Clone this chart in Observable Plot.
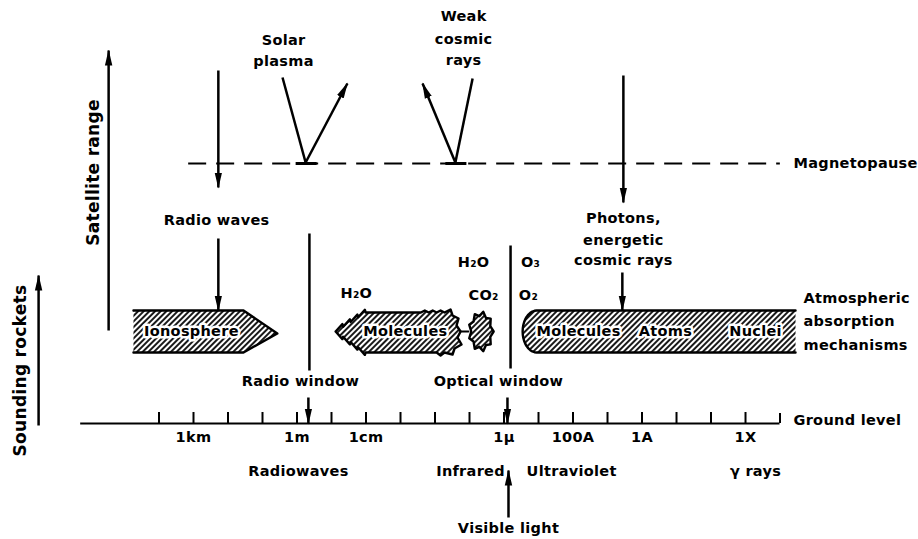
<!DOCTYPE html>
<html>
<head>
<meta charset="utf-8">
<script src="https://cdn.jsdelivr.net/npm/d3@7"></script>
<script src="https://cdn.jsdelivr.net/npm/@observablehq/plot@0.6"></script>
<style>
  html, body { margin: 0; padding: 0; background: #fff; }
  svg text { letter-spacing: 0.3px; }
</style>
</head>
<body>
<div id="chart"></div>
<script>
// x = log10(wavelength / 1 m) (decreasing to the right), y = schematic height (ground level = 0)

// Ground-level wavelength scale
const groundStart = 6.27, groundEnd = -14.0;
const tickExponents = [4, 3, 2, 1, 0, -1, -2, -3, -4, -5, -6, -7, -8, -9, -10, -11, -12, -13];
const scaleLabels = ["1km", "1m", "1cm", "1μ", "100A", "1A", "1X"];
const scaleLabelExp = [3, 0, -2, -6, -8, -10, -13];
const regionLabels = ["Radiowaves", "Infrared", "Ultraviolet", "γ rays"];
const regionExp = [-0.04, -5.03, -7.96, -13.29];

// Heights of schematic levels
const levelGround = 0, levelBandTop = 1.13, levelBandBottom = 0.71, levelMagnetopause = 2.6;

// Absorption bands (wavelength extents)
const ionosphereBand = [4.74, 1.55, 0.57];           // left edge, start of point, tip
const waterBand = [-1.12, -4.74];                    // tip, right end
const waterBlob = [-4.97, -5.70];
const highBand = [-6.54, -14.45];
const bandLabels = ["Ionosphere", "Molecules", "Molecules", "Atoms", "Nuclei"];
const bandLabelExp = [3.06, -3.14, -8.16, -10.68, -13.29];

// Arrows [x1, y1, x2, y2]
const arrowNames = ["Satellite range", "Sounding rockets", "Radio waves", "Radio waves to ionosphere",
  "Solar plasma reflected", "Weak cosmic rays reflected", "Photons", "Photons to band",
  "Radio window", "Optical window", "Visible light"];
const arrowX1 = [5.46, 7.49, 2.28, 2.28, -0.25, -4.59, -9.46, -9.43, -0.33, -6.10, -6.13];
const arrowY1 = [0.93, -0.02, 3.53, 1.85, 2.61, 2.61, 3.48, 1.51, 0.26, 0.26, -0.94];
const arrowX2 = [5.46, 7.49, 2.28, 2.28, -1.46, -3.64, -9.46, -9.43, -0.33, -6.10, -6.13];
const arrowY2 = [3.73, 1.48, 2.36, 1.13, 3.40, 3.40, 2.21, 1.13, 0.0, 0.0, -0.47];

// Plain segments [x1, y1, x2, y2]
const segX1 = [0.42, -5.09, -0.36, -6.19];
const segY1 = [3.46, 3.45, 1.90, 1.78];
const segX2 = [-0.25, -4.59, -0.36, -6.19];
const segY2 = [2.61, 2.61, 0.53, 0.55];
const vertexBars = [[0.04, -0.57], [-4.30, -4.91]];
const magnetopauseSpan = [3.14, -14.01];

// Free text labels
const noteTexts = ["Solar", "plasma", "Weak", "cosmic", "rays", "Radio waves",
  "Photons,", "energetic", "cosmic rays", "H₂O", "O₃", "CO₂", "O₂", "H₂O",
  "Radio window", "Optical window", "Visible light"];
const noteExp = [0.39, 0.39, -4.83, -4.83, -4.83, 2.33,
  -9.46, -9.46, -9.46, -5.12, -6.77, -5.41, -6.71, -1.72,
  -0.10, -5.84, -6.13];
const noteLevel = [3.83, 3.62, 4.07, 3.84, 3.63, 2.03,
  2.05, 1.83, 1.63, 1.61, 1.61, 1.28, 1.28, 1.30,
  0.42, 0.42, -1.05];

const sideTexts = ["Magnetopause", "Atmospheric", "absorption", "mechanisms", "Ground level"];
const sideExp = [-14.39, -14.68, -14.68, -14.68, -14.39];
const sideLevel = [2.6, 1.25, 1.02, 0.78, 0.03];

// ---------- build tables ----------
const arrows = arrowNames.map((name, i) => ({name, x1: arrowX1[i], y1: arrowY1[i], x2: arrowX2[i], y2: arrowY2[i]}));
const segments = segX1.map((_, i) => ({x1: segX1[i], y1: segY1[i], x2: segX2[i], y2: segY2[i]}));
const notes = noteTexts.map((text, i) => ({text, x: noteExp[i], y: noteLevel[i]}));
const sides = sideTexts.map((text, i) => ({text, x: sideExp[i], y: sideLevel[i]}));
const scaleTicks = scaleLabels.map((text, i) => ({text, x: scaleLabelExp[i]}));
const regions = regionLabels.map((text, i) => ({text, x: regionExp[i]}));
const bandText = bandLabels.map((text, i) => ({text, x: bandLabelExp[i]}));

const mid = (levelBandTop + levelBandBottom) / 2;
const halfH = (levelBandTop - levelBandBottom) / 2;
const dx = 1 / 34.5, dy = 0.01; // one drawing unit in each direction

// Outline builders
function zig(a, b, n, ox, oy) {
  const pts = [];
  for (let k = 0; k < n; k++) {
    const t0 = k / n, t1 = (k + 0.5) / n;
    pts.push([a[0] + (b[0] - a[0]) * t0, a[1] + (b[1] - a[1]) * t0]);
    pts.push([a[0] + (b[0] - a[0]) * t1 + ox, a[1] + (b[1] - a[1]) * t1 + oy]);
  }
  return pts;
}
const shapes = [];
function addShape(name, pts) { pts.forEach(([x, y]) => shapes.push({name, x, y})); }

// Ionosphere: flat left, pointed right (left edge unstroked)
addShape("ionosphere", [
  [ionosphereBand[0], levelBandTop], [ionosphereBand[1], levelBandTop],
  [ionosphereBand[2], mid - 0.02], [ionosphereBand[1], levelBandBottom],
  [ionosphereBand[0], levelBandBottom]
]);

// Water molecules: jagged pointed left, ragged right end
{
  const L = waterBand[0], R = waterBand[1];
  const sL = L - 30 * dx, sR = R + 16 * dx;
  const T = levelBandTop - 0.02, B = levelBandBottom;
  const pts = [];
  pts.push(...zig([L, mid], [sL, T], 4, -3 * dx, 5 * dy));
  pts.push(...zig([sL, T], [sR, T], 10, 0, 2 * dy).filter((p, i) => i > 14 || i % 2 === 0));
  pts.push([sR, T], [R + 10 * dx, T + 3 * dy], [R + 8 * dx, T - 3 * dy], [R + 2 * dx, T - 6 * dy],
    [R + 4 * dx, mid + 6 * dy], [R, mid], [R + 3 * dx, mid - 6 * dy], [R - 1 * dx, B + 8 * dy],
    [R + 6 * dx, B + 4 * dy], [R + 8 * dx, B - 2 * dy], [sR, B]);
  pts.push(...zig([sR, B], [sL, B], 10, 0, -3 * dy).filter((p, i) => i < 3 || i % 2 === 0));
  pts.push(...zig([sL, B], [L, mid], 4, -3 * dx, -5 * dy));
  pts.push([L, mid]);
  addShape("water", pts);
  // connector
  addShape("connector", [[R, mid], [waterBlob[0], mid]]);
  // blob
  const cx = (waterBlob[0] + waterBlob[1]) / 2, rx = (waterBlob[0] - waterBlob[1]) / 2, ry = halfH * 0.95;
  const bp = [];
  const n = 18;
  for (let k = 0; k <= n; k++) {
    const a = (k / n) * 2 * Math.PI;
    const r = k % 2 === 0 ? 1 : 0.78;
    bp.push([cx - rx * r * Math.cos(a), mid + ry * r * Math.sin(a)]);
  }
  addShape("blob", bp);
}

// High-energy band: rounded left end, open right end
{
  const L = highBand[0], R = highBand[1];
  const rx = 14 * dx, ry = halfH;
  const cx = L - rx;
  const pts = [[R, levelBandTop]];
  for (let k = 0; k <= 20; k++) {
    const a = Math.PI / 2 + (k / 20) * Math.PI;
    pts.push([cx - rx * Math.cos(a), mid + ry * Math.sin(a)]);
  }
  pts.push([R, levelBandBottom]);
  addShape("high", pts);
}

const ticks = tickExponents.map(x => ({x}));

const font = "DejaVu Sans, sans-serif";

const chart = Plot.plot({
  width: 918,
  height: 539,
  marginTop: 0, marginBottom: 0, marginLeft: 0, marginRight: 0,
  x: {domain: [8.594, -18.014], range: [0, 918], axis: null},
  y: {domain: [-1.16, 4.23], range: [539, 0], axis: null},
  style: {fontFamily: font, fontWeight: "bold", fontSize: "14.5px", background: "white", color: "black", overflow: "visible"},
  marks: [
    // hatched bands
    Plot.line(shapes.filter(d => d.name !== "connector"), {x: "x", y: "y", z: "name", fill: "url(#hatch)", stroke: "black", strokeWidth: 2.4, curve: "linear", strokeLinejoin: "round"}),
    Plot.line(shapes.filter(d => d.name === "connector"), {x: "x", y: "y", stroke: "black", strokeWidth: 1.8}),
    // band labels with white clearing
    Plot.text(bandText, {x: "x", y: mid, text: "text", fill: "black", stroke: "white", strokeWidth: 5, fontSize: 14.5}),
    // ground level line and ticks
    Plot.ruleY([levelGround], {x1: groundStart, x2: groundEnd, stroke: "black", strokeWidth: 2.2}),
    Plot.ruleX(ticks, {x: "x", y1: 0, y2: 0.11, stroke: "black", strokeWidth: 2}),
    Plot.ruleX([groundEnd], {y1: 0, y2: 0.1, stroke: "black", strokeWidth: 2}),
    // magnetopause
    Plot.ruleY([levelMagnetopause], {x1: magnetopauseSpan[0], x2: magnetopauseSpan[1], stroke: "black", strokeWidth: 2.2, strokeDasharray: "18,10"}),
    Plot.link(vertexBars, {x1: d => d[0], x2: d => d[1], y1: levelMagnetopause, y2: levelMagnetopause, stroke: "black", strokeWidth: 3}),
    // plain segments
    Plot.link(segments, {x1: "x1", y1: "y1", x2: "x2", y2: "y2", stroke: "black", strokeWidth: 2.5}),
    // arrows (filled heads added below as SVG markers)
    Plot.link(arrows, {x1: "x1", y1: "y1", x2: "x2", y2: "y2", stroke: "black", strokeWidth: 2.5}),
    // texts
    Plot.text(notes, {x: "x", y: "y", text: "text", fill: "black"}),
    Plot.text(sides, {x: "x", y: "y", text: "text", fill: "black", textAnchor: "start"}),
    Plot.text(scaleTicks, {x: "x", y: -0.14, text: "text", fill: "black"}),
    Plot.text(regions, {x: "x", y: -0.48, text: "text", fill: "black"}),
    Plot.text(["Satellite range"], {x: 5.90, y: 2.51, text: d => d, rotate: -90, fontSize: 17, fill: "black"}),
    Plot.text(["Sounding rockets"], {x: 8.01, y: 0.53, text: d => d, rotate: -90, fontSize: 17, fill: "black"})
  ]
});

// pattern + arrowhead definitions
const defs = d3.select(chart).insert("defs", ":first-child");
const pat = defs.append("pattern").attr("id", "hatch").attr("patternUnits", "userSpaceOnUse")
  .attr("width", 4).attr("height", 4).attr("patternTransform", "rotate(45)");
pat.append("rect").attr("width", 4).attr("height", 4).attr("fill", "white");
pat.append("line").attr("x1", 1).attr("y1", 0).attr("x2", 1).attr("y2", 4).attr("stroke", "black").attr("stroke-width", 1.8);
defs.append("marker").attr("id", "tri").attr("viewBox", "0 0 16 9").attr("refX", 15).attr("refY", 4.5)
  .attr("markerWidth", 16).attr("markerHeight", 9).attr("markerUnits", "userSpaceOnUse").attr("orient", "auto")
  .append("path").attr("d", "M0,0.8 L16,4.5 L0,8.2 Z").attr("fill", "black");
const linkGroups = d3.select(chart).selectAll('g[aria-label="link"]').nodes();
d3.select(linkGroups[linkGroups.length - 1]).selectAll("path").attr("marker-end", "url(#tri)");

document.getElementById("chart").appendChild(chart);
</script>
</body>
</html>
